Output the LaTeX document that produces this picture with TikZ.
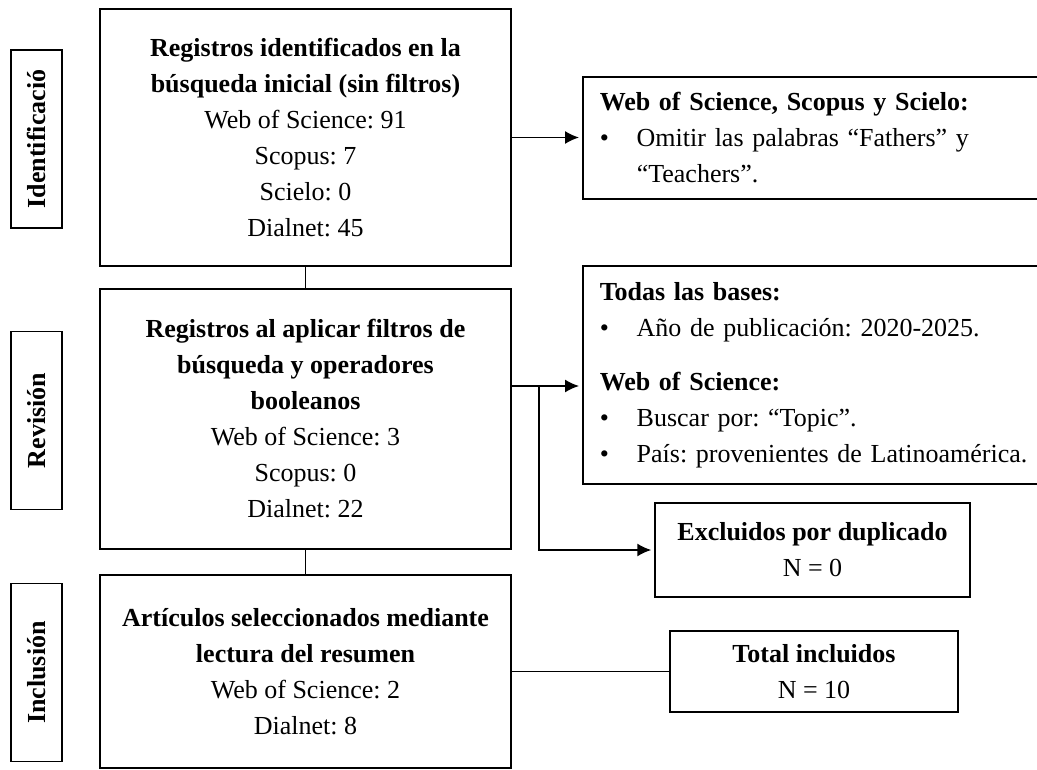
\documentclass[tikz,border=0pt]{standalone}
\usepackage{fontspec}
\setmainfont{Liberation Serif}
\usetikzlibrary{arrows.meta}

\newcommand{\itemdot}{\makebox[37pt][l]{•}}

\tikzset{
  txt/.style={font=\fontsize{26}{36}\selectfont\frenchspacing},
  box/.style={txt, draw, line width=1.5pt, inner sep=0pt, align=center},
  notebox/.style={txt, draw, line width=1.5pt, anchor=west, inner xsep=17pt,
    inner ysep=0pt, align=left, text width=460pt},
  stage/.style={draw, line width=1.5pt, inner sep=0pt, rotate=90,
    minimum width=178pt, minimum height=51pt,
    font=\fontsize{26}{36}\selectfont\bfseries},
  link/.style={line width=1.5pt},
  arrow/.style={link, -{Latex[length=14pt,width=13pt]}, shorten >=3pt},
}

\begin{document}
\begin{tikzpicture}[x=1pt, y=-1pt]
  % Sizes
  \pgfmathsetmacro{\colw}{411}
  \pgfmathsetmacro{\xmid}{305.5}
  \fill[white] (0,0) rectangle (1037,770);
  \useasboundingbox (0,0) rectangle (1037,770);
  \clip (0,0) rectangle (1037,770);

  % stages
  \node[stage] (id) at (36.5,139) {Identificació};
  \node[stage] (rev) at (36.5,420.5) {Revisión};
  \node[stage] (inc) at (36.5,672.5) {Inclusión};

  % main column
  \node[box, minimum width=\colw, minimum height=257] (ident) at (\xmid,137.5)
    {\textbf{Registros identificados en la}\\\textbf{búsqueda inicial (sin filtros)}\\
     Web of Science: 91\\Scopus: 7\\Scielo: 0\\Dialnet: 45};
  \node[box, minimum width=\colw, minimum height=260] (screen) at (\xmid,419)
    {\textbf{Registros al aplicar filtros de}\\\textbf{búsqueda y operadores}\\\textbf{booleanos}\\
     Web of Science: 3\\Scopus: 0\\Dialnet: 22};
  \node[box, minimum width=\colw, minimum height=193] (incl) at (\xmid,671.5)
    {\textbf{Artículos seleccionados mediante}\\\textbf{lectura del resumen}\\
     Web of Science: 2\\Dialnet: 8};

  % right column
  \node[notebox, minimum height=122] (filtA) at (582,138)
    {\textbf{Web of Science, Scopus y Scielo:}\\
     \itemdot Omitir las palabras “Fathers” y\\
     \hspace*{37pt}“Teachers”.};
  \node[notebox, minimum height=218] (filtB) at (582,375)
    {\textbf{Todas las bases:}\\
     \itemdot Año de publicación: 2020-2025.\\[18pt]
     \textbf{Web of Science:}\\
     \itemdot Buscar por: “Topic”.\\
     \itemdot País: provenientes de Latinoamérica.};
  \node[box, minimum width=315, minimum height=94] (excl) at (812.5,550)
    {\textbf{Excluidos por duplicado}\\N = 0};
  \node[box, minimum width=288, minimum height=81] (total) at (814,671.5)
    {\textbf{Total incluidos}\\N = 10};

  % connectors
  \coordinate (split) at (539,386);
  \draw[link] (ident.south) -- (screen.north);
  \draw[link] (screen.south) -- (incl.north);
  \draw[arrow] (ident.east) -- (ident.east -| filtA.west);
  \draw[arrow] (screen.east |- split) -- (split -| filtB.west);
  \draw[arrow] (split) |- (excl.west);
  \draw[link] (incl.east) -- (incl.east -| total.west);
\end{tikzpicture}
\end{document}
